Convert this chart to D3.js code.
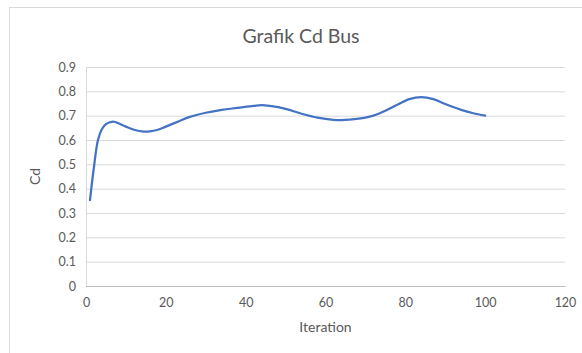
<!DOCTYPE html>
<html>
<head>
<meta charset="utf-8">
<script src="https://cdn.jsdelivr.net/npm/d3@7"></script>
<style>
  html, body { margin: 0; padding: 0; background: #fff; }
  svg { display: block; }
  text { font-family: Lato, "Open Sans", sans-serif; fill: #595959; }
</style>
</head>
<body>
<svg id="chart" width="582" height="353"></svg>
<script>
// Drag coefficient of the bus model over solver iterations
const iterations = [1, 2, 3, 4, 5, 6, 7, 8, 10, 12, 14, 16, 18, 20, 23, 26, 30, 34, 38, 42, 44, 46, 50, 54, 58, 62, 64, 66, 70, 72, 75, 78, 81, 84, 87, 90, 94, 97, 100];
const cdValues = [0.353, 0.49, 0.60, 0.645, 0.665, 0.673, 0.675, 0.670, 0.655, 0.642, 0.635, 0.635, 0.642, 0.655, 0.675, 0.695, 0.712, 0.724, 0.732, 0.740, 0.743, 0.740, 0.728, 0.708, 0.692, 0.683, 0.682, 0.684, 0.692, 0.700, 0.720, 0.745, 0.768, 0.776, 0.768, 0.748, 0.724, 0.710, 0.700];
const xTicks = [0, 20, 40, 60, 80, 100, 120];
const yTicks = [0, 0.1, 0.2, 0.3, 0.4, 0.5, 0.6, 0.7, 0.8, 0.9];

const svg = d3.select("#chart");
const margin = { left: 86, right: 17, top: 67, bottom: 67 };
const W = 582, H = 353;

// outer chart frame
svg.append("rect")
  .attr("x", 9.5).attr("y", 7.5)
  .attr("width", 600).attr("height", 400)
  .attr("fill", "none").attr("stroke", "#d9d9d9").attr("stroke-width", 1);

const x = d3.scaleLinear().domain([0, 120]).range([margin.left, W - margin.right]);
const y = d3.scaleLinear().domain([0, 0.9]).range([H - margin.bottom, margin.top]);

// horizontal gridlines with value labels
const yAxis = d3.axisLeft(y).tickValues(yTicks)
  .tickSize(-(x(120) - x(0)))
  .tickPadding(10)
  .tickFormat(d => d === 0 ? "0" : d3.format(".1f")(d));
const gy = svg.append("g").attr("transform", `translate(${x(0)},0)`).call(yAxis);
gy.select(".domain").attr("stroke", "#d9d9d9");
gy.selectAll(".tick line").attr("stroke", d => d === 0 ? "#bfbfbf" : "#d9d9d9").attr("stroke-width", 1);
gy.selectAll(".tick text").style("font-size", "12.5px").attr("fill", "#595959");

const xAxis = d3.axisBottom(x).tickValues(xTicks).tickSize(0).tickPadding(12);
const gx = svg.append("g").attr("transform", `translate(0,${y(0)})`).call(xAxis);
gx.select(".domain").attr("stroke", "#bfbfbf");
gx.selectAll(".tick text").style("font-size", "12.5px").attr("fill", "#595959");

// series line
const pts = iterations.map((d, i) => [d, cdValues[i]]);
const line = d3.line()
  .x(d => x(d[0]))
  .y(d => y(d[1]))
  .curve(d3.curveCatmullRom.alpha(0.5));
svg.append("path")
  .datum(pts)
  .attr("d", line)
  .attr("fill", "none")
  .attr("stroke", "#4472C4")
  .attr("stroke-width", 2.25)
  .attr("stroke-linecap", "round")
  .attr("stroke-linejoin", "round");

// titles
svg.append("text")
  .attr("x", 301).attr("y", 43)
  .attr("text-anchor", "middle")
  .style("font-size", "19.5px")
  .text("Grafik Cd Bus");

svg.append("text")
  .attr("x", (x(0) + x(120)) / 2).attr("y", 332)
  .attr("text-anchor", "middle")
  .style("font-size", "14px")
  .text("Iteration");

svg.append("text")
  .attr("transform", `translate(40,${(y(0) + y(0.9)) / 2}) rotate(-90)`)
  .attr("text-anchor", "middle")
  .style("font-size", "14px")
  .text("Cd");
</script>
</body>
</html>
